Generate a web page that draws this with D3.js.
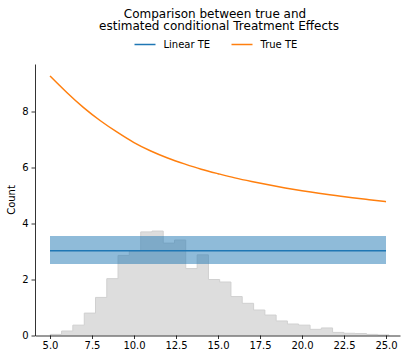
<!DOCTYPE html>
<html>
<head>
<meta charset="utf-8">
<script src="https://cdn.jsdelivr.net/npm/d3@7"></script>
<style>
  html, body { margin: 0; padding: 0; background: #fff; }
  svg { display: block; font-family: "DejaVu Sans", sans-serif; }
</style>
</head>
<body>
<svg id="chart" width="407" height="360"></svg>
<script>
// ---- data ----
const titleLines = ["Comparison between true and", "estimated conditional Treatment Effects"];
const legendLabels = ["Linear TE", "True TE"];
const xTicks = [5.0, 7.5, 10.0, 12.5, 15.0, 17.5, 20.0, 22.5, 25.0];
const yTicks = [0, 2, 4, 6, 8];
const yLabel = "Count";

// histogram bin edges and heights
const binEdges = [5.02, 5.69, 6.36, 7.04, 7.71, 8.38, 9.05, 9.72, 10.40, 11.07, 11.74,
  12.41, 13.08, 13.76, 14.43, 15.10, 15.77, 16.44, 17.12, 17.79, 18.46, 19.13, 19.80,
  20.48, 21.15, 21.82, 22.49, 23.16, 23.84, 24.51, 25.18];
const binCounts = [0.04, 0.16, 0.37, 0.80, 1.36, 2.03, 2.86, 3.02, 3.70, 3.73, 3.30,
  3.41, 2.39, 2.88, 2.00, 1.91, 1.39, 1.15, 0.91, 0.73, 0.52, 0.41, 0.37, 0.22, 0.27,
  0.11, 0.08, 0.07, 0.04, 0.02];

// true treatment effect curve
const trueX = [5, 6, 7, 8, 9, 10, 11, 12, 13, 14, 15, 16, 17, 18, 19, 20, 21, 22, 23, 24, 25];
const trueY = [9.27, 8.68, 8.14, 7.67, 7.26, 6.89, 6.59, 6.34, 6.13, 5.94, 5.78, 5.63,
  5.50, 5.38, 5.27, 5.17, 5.08, 5.00, 4.92, 4.85, 4.78];

// linear TE estimate and its interval
const linearX = [5, 25];
const linearY = [3.03, 3.03];
const linearLower = [2.55, 2.55];
const linearUpper = [3.55, 3.55];

// ---- drawing ----
const svg = d3.select("#chart");
const x = d3.scaleLinear().domain([5, 25]).range([50, 386]);
const y = d3.scaleLinear().domain([0, 8]).range([335.5, 111.5]);
const xMin = x.invert(35), xMax = x.invert(400);
const yMax = y.invert(64);

const blue = "#1f77b4", orange = "#ff7f0e";

// histogram as a filled step shape
const stepPts = [[binEdges[0], 0]];
binCounts.forEach((c, i) => { stepPts.push([binEdges[i], c]); stepPts.push([binEdges[i + 1], c]); });
stepPts.push([binEdges[binEdges.length - 1], 0]);
svg.append("path").datum(stepPts)
  .attr("d", d3.line().x(d => x(d[0])).y(d => y(d[1])))
  .attr("fill", "#dddddd")
  .attr("stroke", "#d0d0d0")
  .attr("stroke-width", 1);

// band
const bandData = linearX.map((v, i) => ({x: v, lo: linearLower[i], hi: linearUpper[i]}));
svg.append("path").datum(bandData)
  .attr("d", d3.area().x(d => x(d.x)).y0(d => y(d.lo)).y1(d => y(d.hi)))
  .attr("fill", blue).attr("fill-opacity", 0.5);

// linear line
svg.append("path").datum(linearX.map((v, i) => [v, linearY[i]]))
  .attr("d", d3.line().x(d => x(d[0])).y(d => y(d[1])))
  .attr("fill", "none").attr("stroke", blue).attr("stroke-width", 1.5);

// true line
svg.append("path").datum(trueX.map((v, i) => [v, trueY[i]]))
  .attr("d", d3.line().curve(d3.curveNatural).x(d => x(d[0])).y(d => y(d[1])))
  .attr("fill", "none").attr("stroke", orange).attr("stroke-width", 1.5);

// axes
const xAxisScale = x.copy().domain([xMin, xMax]).range([35, 400]);
const yAxisScale = y.copy().domain([0, yMax]).range([335.5, 64]);

const xAxis = svg.append("g").attr("transform", "translate(0,335.5)")
  .call(d3.axisBottom(xAxisScale).tickValues(xTicks).tickFormat(d3.format(".1f"))
    .tickSizeInner(3.5).tickSizeOuter(0).tickPadding(3));
const yAxis = svg.append("g").attr("transform", "translate(35,0)")
  .call(d3.axisLeft(yAxisScale).tickValues(yTicks).tickFormat(d3.format("d"))
    .tickSizeInner(3.5).tickSizeOuter(0).tickPadding(3));
[xAxis, yAxis].forEach(a => {
  a.selectAll("text").attr("font-size", 10).attr("fill", "#000")
    .attr("font-family", "DejaVu Sans, sans-serif");
  a.selectAll("line").attr("stroke", "#000").attr("stroke-width", 0.8);
  a.select(".domain").attr("stroke", "#000").attr("stroke-width", 0.8);
});

// y label
svg.append("text")
  .attr("transform", "translate(14.5,200) rotate(-90)")
  .attr("text-anchor", "middle")
  .attr("font-size", 10)
  .text(yLabel);

// title
const titleX = [215, 219];
const titleYs = [17.5, 30];
titleLines.forEach((t, i) => {
  svg.append("text")
    .attr("x", titleX[i]).attr("y", titleYs[i])
    .attr("text-anchor", "middle")
    .attr("font-size", 12)
    .text(t);
});

// legend
const legendColors = [blue, orange];
const legendLineX = [134.5, 231.5];
legendLabels.forEach((lab, i) => {
  const g = svg.append("g");
  g.append("line")
    .attr("x1", legendLineX[i]).attr("x2", legendLineX[i] + 21)
    .attr("y1", 44.5).attr("y2", 44.5)
    .attr("stroke", legendColors[i]).attr("stroke-width", 1.5);
  g.append("text")
    .attr("x", legendLineX[i] + 29).attr("y", 48.3)
    .attr("font-size", 10)
    .text(lab);
});
</script>
</body>
</html>
